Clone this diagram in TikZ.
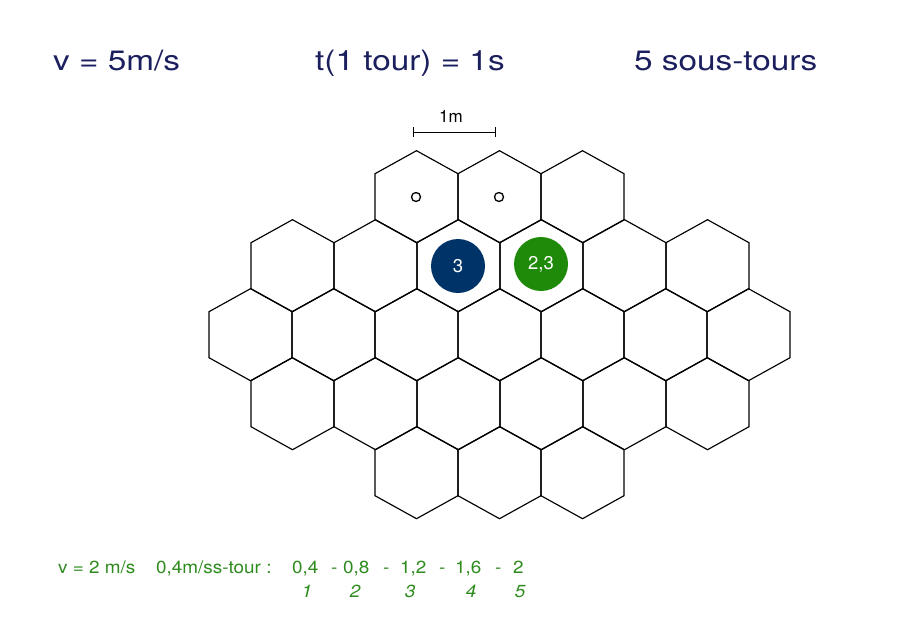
\documentclass[tikz,border=0pt]{standalone}
\usepackage{fontspec}
\setmainfont{TeX Gyre Heros}
\newfontfamily\topfont[FakeStretch=1.19]{TeX Gyre Heros}
\newfontfamily\botfont[FakeStretch=1.08]{TeX Gyre Heros}
\definecolor{navy}{HTML}{1C1F5E}
\definecolor{txtgreen}{HTML}{2E8B1E}
\definecolor{discblue}{HTML}{003468}
\definecolor{discgreen}{HTML}{1F8A0A}
\tikzset{
  hexline/.style={draw=black, line width=1.15pt, line join=miter},
  toptext/.style={anchor=base west, inner sep=0pt, text=navy, font=\topfont\fontsize{28}{32}\selectfont},
  bottext/.style={anchor=base west, inner sep=0pt, text=txtgreen, font=\botfont\fontsize{17.5}{20}\selectfont},
  botnum/.style={anchor=base, inner sep=0pt, text=txtgreen, font=\botfont\itshape\fontsize{17.5}{20}\selectfont},
  disc/.style={circle, minimum size=54pt, inner sep=0pt, text=white, font=\fontsize{18.5}{20}\selectfont},
  marker/.style={circle, draw=black, line width=1.3pt, minimum size=9pt, inner sep=0pt},
}
\newcommand{\hexat}[2]{\draw[hexline] (#1,#2) ++(0,-46) -- ++(41.5,23) -- ++(0,46) -- ++(-41.5,23) -- ++(-41.5,-23) -- ++(0,-46) -- cycle;}
\begin{document}
\begin{tikzpicture}[x=1pt,y=-1pt]
\path[use as bounding box, fill=white] (0,0) rectangle (907,624);
% top texts
\node[toptext] (tv) at (53,70.7) {v = 5m/s};
\node[toptext] (tt) at (315,70.7) {t(1 tour) = 1s};
\node[toptext] (ts) at (634,70.7) {5 sous-tours};
% scale bar
\coordinate (sbl) at (413,132);
\coordinate (sbr) at (495,132);
\draw[line width=0.9pt] (sbl) -- (sbr);
\draw[line width=0.9pt] ([yshift=-5pt]sbl) -- ([yshift=5pt]sbl);
\draw[line width=0.9pt] ([yshift=-5pt]sbr) -- ([yshift=5pt]sbr);
\node[anchor=base, inner sep=0pt, font=\fontsize{17}{20}\selectfont] (sbt) at (451,122) {1m};
% hex grid
\foreach \x in {416.5,499.5,582.5} {\hexat{\x}{196.7}}
\foreach \k in {0,...,5} {\hexat{292.5+83*\k}{265.7}}
\foreach \k in {0,...,6} {\hexat{250.5+83*\k}{334.7}}
\foreach \k in {0,...,5} {\hexat{292.5+83*\k}{403.7}}
\foreach \x in {416.5,499.5,582.5} {\hexat{\x}{472.7}}
% markers
\node[marker] (m1) at (416,197) {};
\node[marker] (m2) at (499,197) {};
% discs
\node[disc, fill=discblue] (d1) at (458,266) {3};
\node[disc, fill=discgreen] (d2) at (541,264) {2,3};
% bottom texts
\node[bottext] (b1) at (58,573) {v = 2 m/s};
\node[bottext] (b2) at (156,573) {0,4m/ss-tour :};
\node[bottext] (b3) at (292,573) {0,4};
\node[bottext] (b4) at (331,573) {-};
\node[bottext] (b5) at (343,573) {0,8};
\node[bottext] (b6) at (383,573) {-};
\node[bottext] (b7) at (400,573) {1,2};
\node[bottext] (b8) at (439,573) {-};
\node[bottext] (b9) at (455,573) {1,6};
\node[bottext] (b10) at (495,573) {-};
\node[bottext] (b11) at (513,573) {2};
\node[botnum] (n1) at (307,597) {1};
\node[botnum] (n2) at (355,597) {2};
\node[botnum] (n3) at (410,597) {3};
\node[botnum] (n4) at (471,597) {4};
\node[botnum] (n5) at (520,597) {5};
\end{tikzpicture}
\end{document}
